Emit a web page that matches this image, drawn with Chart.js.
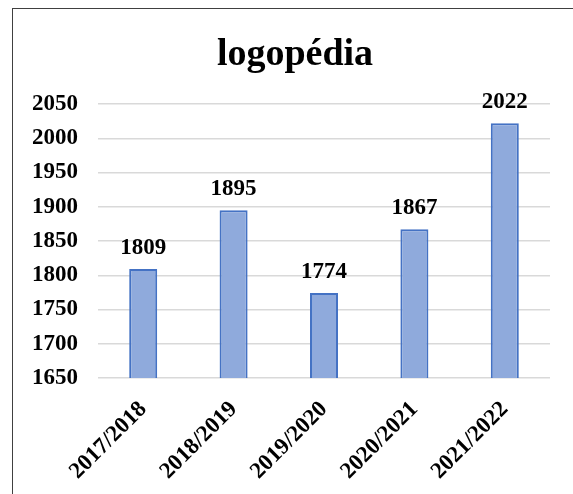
<!DOCTYPE html>
<html>
<head>
<meta charset="utf-8">
<script src="https://cdn.jsdelivr.net/npm/chart.js@4"></script>
<style>
  html, body { margin: 0; padding: 0; background: #fff; }
  #wrap { position: relative; width: 573px; height: 494px; overflow: hidden; }
  #frame { position: absolute; left: 12px; top: 8px; width: 600px; height: 520px;
           border-left: 1px solid #404040; border-top: 1px solid #404040; }
  canvas { position: absolute; left: 0; top: 0; }
</style>
</head>
<body>
<div id="wrap">
  <div id="frame"></div>
  <canvas id="chart" width="573" height="494"></canvas>
</div>
<script>
const chartTitle = "logopédia";
const years = ["2017/2018", "2018/2019", "2019/2020", "2020/2021", "2021/2022"];
const counts = [1809, 1895, 1774, 1867, 2022];
const yTicks = [1650, 1700, 1750, 1800, 1850, 1900, 1950, 2000, 2050];

const serif = "'Liberation Serif', 'Times New Roman', serif";

// numbers above the bars + the title (centred over the whole frame, not the plot)
const extras = {
    id: 'extras',
    afterDatasetsDraw(chart) {
        const ctx = chart.ctx;
        const meta = chart.getDatasetMeta(0);
        ctx.save();
        ctx.fillStyle = "#000";
        ctx.textAlign = "center";
        ctx.textBaseline = "alphabetic";
        ctx.font = "bold 23px " + serif;
        meta.data.forEach((bar, i) => {
            ctx.fillText(chart.data.datasets[0].data[i], bar.x, bar.y - 15);
        });
        ctx.font = "bold 38px " + serif;
        ctx.textBaseline = "middle";
        ctx.fillText(chartTitle, (chart.chartArea.right + 40) / 2, 55);
        ctx.restore();
    }
};

const ctx = document.getElementById("chart").getContext("2d");
new Chart(ctx, {
    type: 'bar',
    data: {
        labels: years,
        datasets: [{
            data: counts,
            backgroundColor: "#8FAADC",
            borderColor: "#4472C4",
            borderWidth: 2,
            barPercentage: 0.31,
            categoryPercentage: 1
        }]
    },
    options: {
        responsive: false,
        animation: false,
        layout: { padding: { left: 0, right: 23, top: 104, bottom: 0 } },
        plugins: {
            legend: { display: false },
            tooltip: { enabled: false },
            title: { display: false }
        },
        scales: {
            x: {
                grid: { display: false },
                border: { display: false },
                ticks: {
                    color: "#000",
                    font: { family: serif, size: 23, weight: 'bold' },
                    maxRotation: 45,
                    minRotation: 45,
                    padding: 10
                },
                afterFit(axis) { axis.height = 494 - 378; }
            },
            y: {
                min: 1650,
                max: 2050,
                afterBuildTicks(axis) { axis.ticks = yTicks.map(v => ({ value: v })); },
                grid: { color: "#D9D9D9", lineWidth: 1.5, drawTicks: false },
                border: { display: false },
                ticks: {
                    color: "#000",
                    font: { family: serif, size: 23, weight: 'bold' },
                    padding: 20,
                    callback: v => String(v)
                },
                afterFit(axis) { axis.width = 98; }
            }
        }
    },
    plugins: [extras]
});
</script>
</body>
</html>
